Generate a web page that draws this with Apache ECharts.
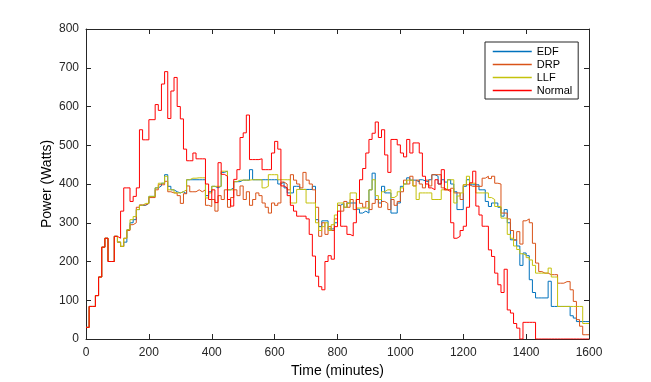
<!DOCTYPE html>
<html>
<head>
<meta charset="utf-8">
<script src="https://cdn.jsdelivr.net/npm/echarts@6/dist/echarts.min.js"></script>
<style>
  html, body { margin: 0; padding: 0; background: #fff; }
  #Power { width: 651px; height: 382px; }
</style>
</head>
<body>
<div id="Power"></div>
<script>
// power samples, one value every 10 minutes (0..1600)
var normalW = [30,84,84,112,160,237,260,200,200,265,
    260,330,390,390,355,368,390,540,514,514,
    566,566,605,590,658,690,569,640,675,600,
    568,490,460,460,480,465,465,465,400,360,
    385,352,455,425,420,360,343,412,437,520,
    532,578,463,463,463,465,437,437,437,480,
    510,490,395,390,370,345,330,317,317,317,
    310,270,214,162,135,127,200,215,206,290,
    330,291,291,270,266,300,360,411,440,480,
    515,531,560,520,540,475,430,515,515,501,
    480,470,515,480,506,506,480,420,400,390,
    385,411,400,437,385,385,300,260,265,280,
    291,340,403,433,343,320,291,291,230,213,
    170,140,120,180,75,67,40,28,0,43,
    43,43,43,0,0,0,0,0,0,0,
    0,0,0,0,0,0,0,0,0,0,0];

var edfW = [30,84,84,112,160,237,260,200,200,265,
    250,239,250,282,300,308,334,345,345,350,
    368,368,390,395,402,424,394,385,380,377,
    380,375,411,411,411,411,411,411,370,380,
    394,390,394,430,433,385,390,406,406,410,
    410,410,437,411,411,411,411,411,411,411,
    411,400,405,390,377,377,394,394,386,386,
    386,386,394,308,290,305,305,284,284,300,
    345,350,340,351,351,351,335,325,330,325,
    385,428,360,351,394,377,377,325,325,351,
    394,400,416,410,410,405,411,408,405,411,
    424,420,400,411,405,411,400,380,334,334,
    394,411,398,398,398,385,385,355,342,351,
    351,340,317,334,300,256,256,240,190,222,
    215,153,120,106,106,106,106,149,84,84,
    84,84,84,84,60,54,45,45,45,45,45];

var drpW = [30,84,84,112,160,237,260,200,200,265,
    250,239,260,280,295,300,340,346,346,350,
    365,365,385,398,398,407,380,377,377,370,
    350,375,395,380,380,385,380,385,345,342,
    360,330,370,360,385,340,365,385,370,395,
    360,380,345,360,377,370,351,340,325,351,
    345,351,405,400,385,424,410,400,390,430,
    410,400,385,340,265,300,270,290,280,310,
    345,330,355,340,360,334,360,350,340,355,
    334,350,360,340,355,350,334,360,345,355,
    380,410,400,420,395,410,400,390,410,395,
    424,424,424,390,385,380,389,377,377,360,
    398,398,394,394,394,394,415,420,414,420,
    402,400,325,325,310,280,255,277,245,305,
    310,300,247,196,174,170,170,166,166,166,
    144,144,148,148,127,97,50,33,11,11,11];

var llfW = [30,84,84,112,160,237,260,200,200,265,
    250,239,260,282,308,316,334,345,350,350,
    368,368,390,402,402,420,385,385,377,377,
    380,385,411,415,415,416,416,416,364,377,
    394,394,394,433,433,385,385,406,410,410,
    410,410,411,411,411,411,390,394,424,424,
    424,411,411,411,411,351,351,386,386,386,
    351,351,351,300,280,290,300,280,295,320,
    351,351,340,350,377,377,338,338,338,338,
    385,411,370,360,380,385,385,365,370,380,
    390,400,410,410,395,360,377,377,377,377,
    360,360,360,385,385,411,411,351,369,377,
    398,420,402,402,377,377,377,377,365,360,
    342,342,312,312,270,260,240,231,220,217,
    210,204,190,170,170,170,170,183,160,160,
    84,84,84,84,84,84,84,84,40,40,40];

var seriesNames = ['EDF', 'DRP', 'LLF', 'Normal'];
var seriesColors = ['#0072BD', '#D95319', '#C4C20C', '#FF0000'];
var seriesValues = [edfW, drpW, llfW, normalW];

function pairs(vals) {
    var out = [];
    for (var i = 0; i < vals.length; i++) {
        out.push([i * 10, vals[i]]);
    }
    return out;
}

var axisColor = '#262626';
var font = 'Liberation Sans, Arial, Helvetica, sans-serif';
var plain = function (v) { return String(v); };

var myChart = echarts.init(document.getElementById('Power'));

var series = [];
for (var k = 0; k < seriesNames.length; k++) {
    series.push({
        name: seriesNames[k],
        type: 'line',
        step: 'end',
        symbol: 'none',
        data: pairs(seriesValues[k]),
        lineStyle: { color: seriesColors[k], width: 1 },
        itemStyle: { color: seriesColors[k] },
        emphasis: { disabled: true }
    });
}

myChart.setOption({
    animation: false,
    backgroundColor: '#fff',
    textStyle: { fontFamily: font },
    grid: { left: 86, right: 62, top: 29, bottom: 43, outerBoundsMode: 'none' },
    legend: {
        data: seriesNames,
        orient: 'vertical',
        left: 485,
        top: 42,
        padding: [4, 6, 3, 7],
        itemGap: 2,
        itemWidth: 39,
        itemHeight: 12,
        itemStyle: { opacity: 0 },
        lineStyle: { width: 1.5 },
        backgroundColor: '#fff',
        borderColor: axisColor,
        borderWidth: 1,
        textStyle: { fontSize: 11, color: '#000', fontFamily: font }
    },
    xAxis: [{
        type: 'value',
        min: 0, max: 1600, interval: 200,
        name: 'Time (minutes)',
        nameLocation: 'middle',
        nameGap: 25,
        nameMoveOverlap: false,
        nameTextStyle: { fontSize: 14, color: '#000', fontFamily: font },
        axisLine: { onZero: false, lineStyle: { color: axisColor, width: 1 } },
        axisTick: { inside: true, length: 5, lineStyle: { color: axisColor } },
        axisLabel: { fontSize: 12, color: axisColor, margin: 8, fontFamily: font, formatter: plain },
        splitLine: { show: false }
    }, {
        type: 'value',
        position: 'top',
        min: 0, max: 1600, interval: 200,
        axisLine: { onZero: false, lineStyle: { color: axisColor, width: 1 } },
        axisTick: { inside: true, length: 5, lineStyle: { color: axisColor } },
        axisLabel: { show: false },
        splitLine: { show: false }
    }],
    yAxis: [{
        type: 'value',
        min: 0, max: 800, interval: 100,
        name: 'Power (Watts)',
        nameLocation: 'middle',
        nameGap: 32,
        nameMoveOverlap: false,
        nameTextStyle: { fontSize: 14, color: '#000', fontFamily: font },
        axisLine: { show: true, onZero: false, lineStyle: { color: axisColor, width: 1 } },
        axisTick: { show: true, inside: true, length: 5, lineStyle: { color: axisColor } },
        axisLabel: { fontSize: 12, color: axisColor, margin: 7, fontFamily: font, formatter: plain },
        splitLine: { show: false }
    }, {
        type: 'value',
        position: 'right',
        min: 0, max: 800, interval: 100,
        axisLine: { show: true, onZero: false, lineStyle: { color: axisColor, width: 1 } },
        axisTick: { show: true, inside: true, length: 5, lineStyle: { color: axisColor } },
        axisLabel: { show: false },
        splitLine: { show: false }
    }],
    series: series
});
</script>
</body>
</html>
